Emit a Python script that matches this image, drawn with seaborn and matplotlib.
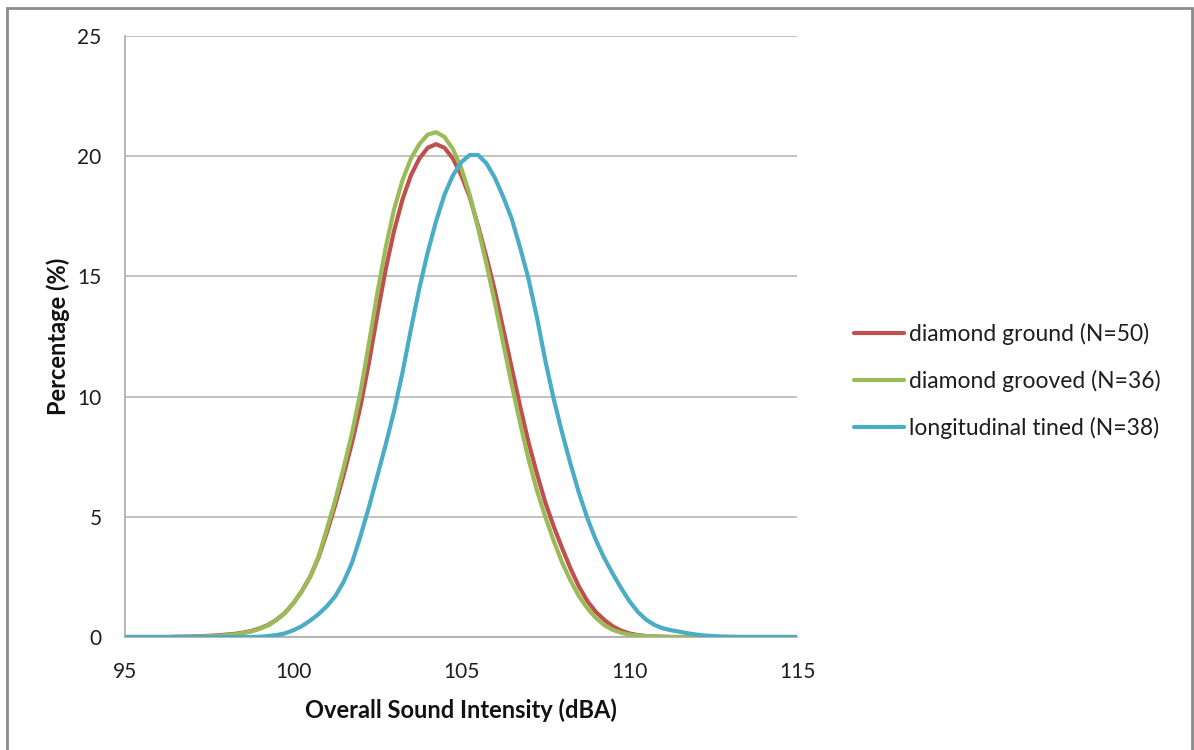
import matplotlib
matplotlib.use("Agg")
import matplotlib.pyplot as plt
import seaborn as sns
import pandas as pd
from matplotlib.patches import Rectangle

# ---- data (x in dBA, y in %) ----
x_vals = [95.0, 95.25, 95.5, 95.75, 96.0, 96.25, 96.5, 96.75, 97.0, 97.25,
          97.5, 97.75, 98.0, 98.25, 98.5, 98.75, 99.0, 99.25, 99.5, 99.75,
          100.0, 100.25, 100.5, 100.75, 101.0, 101.25, 101.5, 101.75, 102.0, 102.25,
          102.5, 102.75, 103.0, 103.25, 103.5, 103.75, 104.0, 104.25, 104.5, 104.75,
          105.0, 105.25, 105.5, 105.75, 106.0, 106.25, 106.5, 106.75, 107.0, 107.25,
          107.5, 107.75, 108.0, 108.25, 108.5, 108.75, 109.0, 109.25, 109.5, 109.75,
          110.0, 110.25, 110.5, 110.75, 111.0, 111.25, 111.5, 111.75, 112.0, 112.25,
          112.5, 112.75, 113.0, 113.25, 113.5, 113.75, 114.0, 114.25, 114.5, 114.75,
          115.0]

diamond_ground = [0.0, 0.0, 0.0, 0.0, 0.0, 0.0, 0.01, 0.015, 0.025, 0.035,
                  0.05, 0.07, 0.1, 0.13, 0.18, 0.25, 0.36, 0.5, 0.72, 1.0,
                  1.4, 1.9, 2.5, 3.3, 4.35, 5.5, 6.75, 8.1, 9.6, 11.4,
                  13.4, 15.3, 16.9, 18.2, 19.2, 19.9, 20.35, 20.5, 20.35, 19.9,
                  19.2, 18.3, 17.1, 15.8, 14.4, 12.8, 11.2, 9.6, 8.1, 6.8,
                  5.6, 4.6, 3.7, 2.85, 2.1, 1.5, 1.05, 0.72, 0.45, 0.27,
                  0.15, 0.08, 0.04, 0.02, 0.01, 0.0, 0.0, 0.0, 0.0, 0.0,
                  0.0, 0.0, 0.0, 0.0, 0.0, 0.0, 0.0, 0.0, 0.0, 0.0,
                  0.0]

diamond_grooved = [0.0, 0.0, 0.0, 0.0, 0.0, 0.0, 0.0, 0.01, 0.015, 0.02,
                   0.035, 0.05, 0.08, 0.11, 0.16, 0.23, 0.34, 0.48, 0.7, 1.0,
                   1.4, 1.9, 2.5, 3.35, 4.5, 5.7, 7.05, 8.5, 10.2, 12.2,
                   14.3, 16.2, 17.8, 19.0, 19.9, 20.5, 20.9, 21.0, 20.8, 20.3,
                   19.5, 18.4, 17.0, 15.5, 13.9, 12.2, 10.5, 8.9, 7.4, 6.1,
                   5.0, 4.0, 3.1, 2.35, 1.7, 1.2, 0.8, 0.5, 0.3, 0.18,
                   0.1, 0.06, 0.04, 0.02, 0.01, 0.0, 0.0, 0.0, 0.0, 0.0,
                   0.0, 0.0, 0.0, 0.0, 0.0, 0.0, 0.0, 0.0, 0.0, 0.0,
                   0.0]

longitudinal_tined = [0.0, 0.0, 0.0, 0.0, 0.0, 0.0, 0.0, 0.0, 0.0, 0.0,
                      0.0, 0.0, 0.0, 0.0, 0.0, 0.0, 0.01, 0.04, 0.08, 0.15,
                      0.28, 0.45, 0.68, 0.95, 1.28, 1.7, 2.3, 3.1, 4.2, 5.4,
                      6.7, 8.0, 9.4, 11.0, 12.8, 14.5, 16.0, 17.3, 18.4, 19.2,
                      19.75, 20.05, 20.05, 19.7, 19.1, 18.3, 17.4, 16.2, 14.9, 13.3,
                      11.5, 9.9, 8.5, 7.2, 6.0, 4.95, 4.05, 3.3, 2.65, 2.05,
                      1.5, 1.05, 0.72, 0.5, 0.36, 0.28, 0.22, 0.15, 0.1, 0.06,
                      0.04, 0.02, 0.01, 0.0, 0.0, 0.0, 0.0, 0.0, 0.0, 0.0,
                      0.0]

series_names = ["diamond ground (N=50)", "diamond grooved (N=36)", "longitudinal tined (N=38)"]
series_colors = ["#C0504D", "#9BBB59", "#4BACC6"]

x_ticks = [95, 100, 105, 110, 115]
y_ticks = [0, 5, 10, 15, 20, 25]

# ---- build long-form table ----
rows = []
for name, vals in zip(series_names, [diamond_ground, diamond_grooved, longitudinal_tined]):
    for xv, yv in zip(x_vals, vals):
        rows.append({"x": xv, "y": yv, "series": name})
df = pd.DataFrame(rows)

sns.set_style("white")
plt.rcParams["font.family"] = ["Lato", "DejaVu Sans"]

fig = plt.figure(figsize=(11.94, 7.5), dpi=100)
ax = fig.add_axes([125.3 / 1194, 1 - 637 / 750, (797.3 - 125.3) / 1194, (637 - 36) / 750])

sns.lineplot(data=df, x="x", y="y", hue="series", hue_order=series_names,
             palette=series_colors, linewidth=3.0, ax=ax, legend=False,
             solid_capstyle="round", solid_joinstyle="round", zorder=3)

ax.set_xlim(95, 115)
ax.set_ylim(0, 25)
ax.set_xticks(x_ticks)
ax.set_yticks(y_ticks)
ax.yaxis.grid(True, color="#BDBDBD", linewidth=1.3, zorder=0)
ax.xaxis.grid(False)
for side in ["top", "right"]:
    ax.spines[side].set_visible(False)
for side in ["left", "bottom"]:
    ax.spines[side].set_color("#B0B0B0")
    ax.spines[side].set_linewidth(1.3)
    ax.spines[side].set_zorder(1)
ax.tick_params(axis="both", which="major", direction="out", length=6,
               width=1.3, color="#B0B0B0", labelsize=15, labelcolor="#1E1E1E")
ax.tick_params(axis="x", pad=12)
ax.tick_params(axis="y", pad=11)

ax.set_xlabel("Overall Sound Intensity (dBA)", fontsize=17, fontweight="bold",
              color="#111111", labelpad=12)
ax.set_ylabel("Percentage (%)", fontsize=17, fontweight="bold",
              color="#111111", labelpad=5)

handles = [plt.Line2D([], [], color=c, linewidth=3.0) for c in series_colors]
fig.legend(handles, series_names, loc="center left",
           bbox_to_anchor=(854 / 1194, 1 - 381 / 750), frameon=False,
           fontsize=16.5, handlelength=2.2, handletextpad=0.22, labelspacing=1.1,
           borderpad=0, borderaxespad=0, labelcolor="#1E1E1E")

# outer border of the chart area
fig.patches.append(Rectangle((7 / 1194, -0.01), (1192 - 7) / 1194, 1.01 - 8 / 750,
                             transform=fig.transFigure, fill=False,
                             edgecolor="#8C8C8C", linewidth=2))

fig.savefig("out.png", dpi=100)
